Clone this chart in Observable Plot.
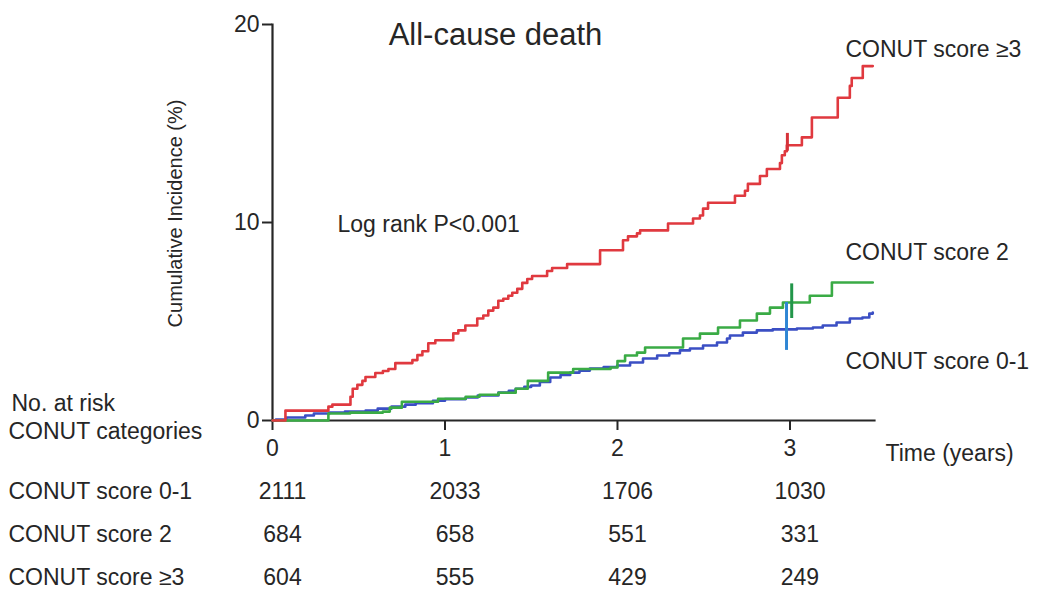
<!DOCTYPE html>
<html>
<head>
<meta charset="utf-8">
<script src="https://cdn.jsdelivr.net/npm/d3@7"></script>
<script src="https://cdn.jsdelivr.net/npm/@observablehq/plot@0.6"></script>
<style>
  html, body { margin: 0; padding: 0; background: #fff; }
</style>
</head>
<body>
<div id="chart"></div>
<script>
// ---- Data ----
const seriesNames = ["CONUT score 0-1", "CONUT score 2", "CONUT score \u22653"];
const seriesColors = ["#3b4fc4", "#3aab45", "#e0393f"];
const censorColors = ["#2f86d4", "#22964a", "#d6333a"];

// [time (years), cumulative incidence (%)]
const conut01 = [[0,0],[0.02,0.05],[0.08,0.15],[0.19,0.25],[0.24,0.35],[0.33,0.4],[0.42,0.45],[0.54,0.5],[0.61,0.6],[0.69,0.7],[0.77,0.8],[0.83,0.87],[0.93,1.0],[1.0,1.08],[1.12,1.16],[1.19,1.26],[1.31,1.41],[1.37,1.5],[1.41,1.6],[1.46,1.7],[1.5,1.77],[1.55,1.95],[1.61,2.17],[1.67,2.3],[1.726,2.42],[1.78,2.52],[1.84,2.63],[1.92,2.7],[1.998,2.78],[2.073,2.93],[2.148,3.13],[2.23,3.28],[2.3,3.4],[2.362,3.54],[2.42,3.64],[2.496,3.79],[2.577,3.94],[2.635,4.14],[2.652,4.29],[2.727,4.44],[2.808,4.55],[2.9,4.6],[3.04,4.65],[3.133,4.7],[3.19,4.8],[3.27,4.95],[3.347,5.15],[3.42,5.2],[3.46,5.4],[3.48,5.45]];
const conut2 = [[0,0],[0.324,0.35],[0.45,0.4],[0.64,0.45],[0.68,0.65],[0.75,0.95],[0.96,1.1],[1.12,1.2],[1.2,1.3],[1.31,1.4],[1.41,1.6],[1.48,2.0],[1.598,2.42],[1.743,2.6],[1.96,2.68],[2.0,3.0],[2.044,3.28],[2.113,3.43],[2.16,3.69],[2.38,4.14],[2.478,4.39],[2.583,4.7],[2.71,5.05],[2.808,5.4],[2.884,5.7],[2.959,5.96],[3.115,6.3],[3.243,6.97],[3.48,6.97]];
const conut3 = [[0,0],[0.075,0.5],[0.324,0.7],[0.347,0.8],[0.452,1.2],[0.465,1.6],[0.492,1.8],[0.521,2.0],[0.539,2.2],[0.596,2.4],[0.64,2.5],[0.672,2.6],[0.712,2.9],[0.811,3.05],[0.84,3.3],[0.869,3.5],[0.903,3.9],[0.944,4.05],[1.048,4.4],[1.077,4.55],[1.118,4.8],[1.187,5.15],[1.222,5.3],[1.251,5.55],[1.28,5.7],[1.309,6.05],[1.338,6.15],[1.367,6.3],[1.39,6.45],[1.419,6.65],[1.448,6.95],[1.477,7.15],[1.505,7.3],[1.592,7.55],[1.621,7.7],[1.708,7.9],[1.899,8.6],[2.032,9.1],[2.061,9.3],[2.113,9.45],[2.131,9.6],[2.293,9.95],[2.438,10.2],[2.478,10.35],[2.496,10.7],[2.525,11.0],[2.681,11.35],[2.739,11.6],[2.756,11.95],[2.826,12.35],[2.866,12.7],[2.942,13.0],[2.953,13.4],[2.97,13.6],[2.982,13.9],[3.069,14.3],[3.127,15.3],[3.277,16.3],[3.347,16.9],[3.358,17.3],[3.422,17.9],[3.48,17.9]];

// censoring marks near 3 years: time, low, high
const censorTime = [2.98, 3.01, 2.985];
const censorLow  = [3.54, 5.15, 13.6];
const censorHigh = [5.96, 6.9, 14.5];

// Number at risk
const riskTimes = [0, 1, 2, 3];
const risk01 = [2111, 2033, 1706, 1030];
const risk2  = [684, 658, 551, 331];
const risk3  = [604, 555, 429, 249];

const xTicks = [0, 1, 2, 3];
const yTicks = [0, 10, 20];

// ---- Build tables ----
const curves = [conut01, conut2, conut3];
const lineData = curves.flatMap((c, i) => c.map(([t, v]) => ({t, v, s: seriesNames[i]})));
const censorData = censorTime.map((t, i) => ({t, lo: censorLow[i], hi: censorHigh[i], c: censorColors[i]}));
const riskRows = [risk01, risk2, risk3];

const FONT = "'Liberation Sans', Arial, Helvetica, sans-serif";
const TXT = "#262626";
const FS = 23;

const rowDy = [78, 121, 164];

const plot = Plot.plot({
  width: 1039,
  height: 600,
  marginLeft: 272,
  marginRight: 165,
  marginTop: 24,
  marginBottom: 180,
  style: {fontFamily: FONT, color: TXT, background: "#fff", overflow: "visible"},
  x: {domain: [0, 3.49]},
  y: {domain: [0, 20]},
  color: {domain: seriesNames, range: seriesColors},
  marks: [
    Plot.axisY({ticks: yTicks, tickSize: 10, tickPadding: 3, fontSize: FS, strokeWidth: 2, label: null, tickFormat: "d"}),
    Plot.axisX({ticks: xTicks, tickSize: 10, tickPadding: 9, fontSize: FS, strokeWidth: 2, label: null, tickFormat: "d"}),
    Plot.frame({anchor: "left", strokeWidth: 2.2}),
    Plot.frame({anchor: "bottom", strokeWidth: 2.2}),
    Plot.line(lineData, {x: "t", y: "v", z: "s", stroke: "s", curve: "step-after", strokeWidth: 2.6}),
    Plot.ruleX(censorData, {x: "t", y1: "lo", y2: "hi", stroke: "c", strokeWidth: 3}),
    // title & annotations
    Plot.text(["All-cause death"], {frameAnchor: "top", dx: -78, dy: -2, fontSize: 31, fill: TXT}),
    Plot.text(["Log rank P<0.001"], {frameAnchor: "top-left", dx: 65, dy: 191, textAnchor: "start", fontSize: FS, fill: TXT}),
    Plot.text(["Cumulative Incidence (%)"], {frameAnchor: "left", dx: -97, dy: -9, rotate: -90, textAnchor: "middle", fontSize: 20, fill: TXT}),
    Plot.text(["Time (years)"], {frameAnchor: "bottom-right", dx: 11, dy: 40, textAnchor: "start", fontSize: FS, fill: TXT}),
    // series labels
    Plot.text([seriesNames[2]], {frameAnchor: "top-right", dx: -29, dy: 16, textAnchor: "start", fontSize: FS, fill: TXT}),
    Plot.text([seriesNames[1]], {frameAnchor: "top-right", dx: -29, dy: 219, textAnchor: "start", fontSize: FS, fill: TXT}),
    Plot.text([seriesNames[0]], {frameAnchor: "top-right", dx: -29, dy: 328, textAnchor: "start", fontSize: FS, fill: TXT}),
    // at-risk header
    Plot.text(["No. at risk"], {frameAnchor: "bottom-left", dx: -261, dy: -10, textAnchor: "start", fontSize: FS, fill: TXT}),
    Plot.text(["CONUT categories"], {frameAnchor: "bottom-left", dx: -264, dy: 18, textAnchor: "start", fontSize: FS, fill: TXT}),
    // at-risk rows
    ...seriesNames.map((name, i) =>
      Plot.text([name], {frameAnchor: "bottom-left", dx: -264, dy: rowDy[i], textAnchor: "start", fontSize: FS, fill: TXT})),
    ...riskRows.map((row, i) =>
      Plot.text(riskTimes, {x: d => d, text: (d, j) => String(row[j]), frameAnchor: "bottom", dx: 10, dy: rowDy[i], fontSize: FS, fill: TXT}))
  ]
});

document.getElementById("chart").appendChild(plot);
</script>
</body>
</html>
